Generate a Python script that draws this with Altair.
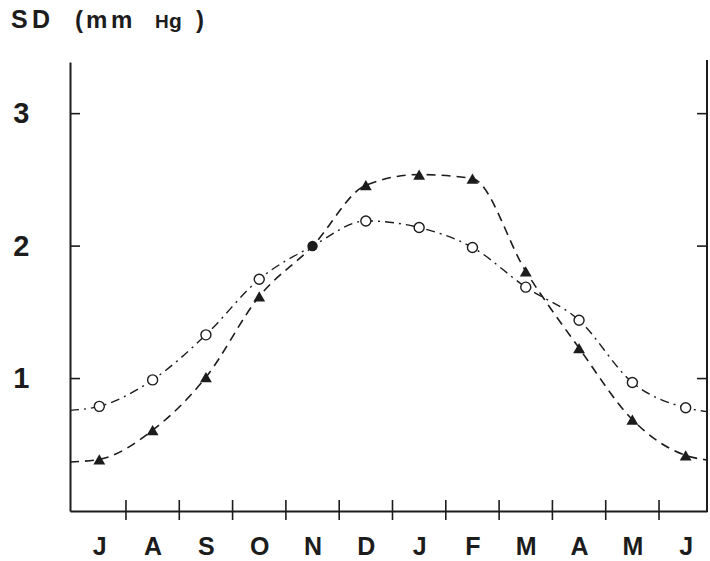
import altair as alt
import pandas as pd

# ---- data ----
months = ["J", "A", "S", "O", "N", "D", "J", "F", "M", "A", "M", "J"]
month_pos = list(range(12))
sd_triangle = [0.39, 0.61, 1.01, 1.62, 2.00, 2.46, 2.54, 2.51, 1.81, 1.23, 0.69, 0.42]
sd_circle = [0.79, 0.99, 1.33, 1.75, 2.00, 2.19, 2.14, 1.99, 1.69, 1.44, 0.97, 0.78]
# where the curves meet the left and right frame
edge_pos = [-0.55, 11.4]
tri_edge = [0.37, 0.385]
circ_edge = [0.76, 0.75]
y_ticks = [1, 2, 3]
x_ticks = [0.5, 1.5, 2.5, 3.5, 4.5, 5.5, 6.5, 7.5, 8.5, 9.5, 10.5]

title_parts = ["S", "D", "(", "m", "m", "H", "g", ")"]
title_left = [11, 32, 75, 86, 111, 155, 169, 196]
title_size = [25, 25, 24, 24, 24, 19, 21, 24]

# ---- tables ----
pts = pd.DataFrame({"pos": month_pos, "tri": sd_triangle, "circ": sd_circle,
                    "month": months})
tri_line = pd.DataFrame({"pos": [edge_pos[0]] + month_pos + [edge_pos[1]],
                         "val": [tri_edge[0]] + sd_triangle + [tri_edge[1]]})
circ_line = pd.DataFrame({"pos": [edge_pos[0]] + month_pos + [edge_pos[1]],
                          "val": [circ_edge[0]] + sd_circle + [circ_edge[1]]})
yt = pd.DataFrame({"v": y_ticks})
xt = pd.DataFrame({"t": x_ticks})
ttl = pd.DataFrame({"txt": title_parts, "x": [v - 70 for v in title_left],
                    "fs": title_size})

W, H = 637, 449
INK = "#1c1c1c"
FONT = "Liberation Sans"

xs = alt.Scale(domain=[-0.55, 11.4], nice=False, zero=False)
ys = alt.Scale(domain=[0, 3.39], nice=False, zero=False)

label_expr = "[" + ",".join("'%s'" % m for m in months) + "][datum.value]"

x_axis = alt.Axis(values=month_pos, labelExpr=label_expr, title=None,
                  ticks=False, tickSize=0, grid=False, domainColor=INK,
                  domainWidth=2, labelFont=FONT, labelFontSize=25,
                  labelFontWeight="bold", labelColor=INK, labelPadding=23,
                  labelBaseline="top")
y_axis = alt.Axis(values=y_ticks, title=None, ticks=False, tickSize=0,
                  grid=False, domainColor=INK, domainWidth=2, labelFont=FONT,
                  labelFontSize=29, labelFontWeight="bold", labelColor=INK,
                  labelPadding=41, format="d")


def X(field):
    return alt.X(field, scale=xs, axis=x_axis)


def Y(field):
    return alt.Y(field, scale=ys, axis=y_axis)


tri_l = alt.Chart(tri_line).mark_line(
    interpolate="monotone", strokeDash=[9, 6], strokeWidth=1.6, color=INK
).encode(x=X("pos:Q"), y=Y("val:Q"))

circ_l = alt.Chart(circ_line).mark_line(
    interpolate="monotone", strokeDash=[9, 5, 2, 5], strokeWidth=1.4, color=INK
).encode(x=X("pos:Q"), y=Y("val:Q"))

tri_p = alt.Chart(pts).transform_filter("datum.pos != 4").mark_point(
    shape="triangle-up", filled=True, size=140, color=INK, opacity=1
).encode(x=X("pos:Q"), y=Y("tri:Q"))

circ_p = alt.Chart(pts).transform_filter("datum.pos != 4").mark_point(
    shape="circle", filled=True, size=100, color="white", stroke=INK,
    strokeWidth=1.4, opacity=1
).encode(x=X("pos:Q"), y=Y("circ:Q"))

dot_p = alt.Chart(pts).transform_filter("datum.pos == 4").mark_point(
    shape="circle", filled=True, size=110, color=INK, opacity=1
).encode(x=X("pos:Q"), y=Y("circ:Q"))

left_ticks = alt.Chart(yt).mark_rule(color=INK, strokeWidth=1.6).encode(
    y=Y("v:Q"), x=alt.value(0), x2=alt.value(10))
right_ticks = alt.Chart(yt).mark_rule(color=INK, strokeWidth=1.6).encode(
    y=Y("v:Q"), x=alt.value(W - 10), x2=alt.value(W))
right_line = alt.Chart(yt).mark_rule(color=INK, strokeWidth=2).encode(
    x=alt.value(W), y=alt.value(-2), y2=alt.value(H + 1))
x_tick_marks = alt.Chart(xt).mark_rule(color=INK, strokeWidth=1.6).encode(
    x=X("t:Q"), y=alt.value(H - 11), y2=alt.value(H + 9))

title = alt.Chart(ttl).mark_text(
    align="left", baseline="alphabetic", font=FONT, fontWeight="bold", color=INK
).encode(x=alt.X("x:Q", scale=None, axis=None), y=alt.value(-34),
         text="txt:N", size=alt.Size("fs:Q", scale=None, legend=None))

chart = alt.layer(
    tri_l, circ_l, left_ticks, right_ticks, right_line, x_tick_marks,
    tri_p, circ_p, dot_p, title
).properties(
    width=W, height=H,
    autosize=alt.AutoSizeParams(type="none"),
    padding={"left": 70, "top": 62, "right": 3, "bottom": 50},
    background="white"
).configure_view(stroke=None)

chart.save("out.html", embed_options={"renderer": "svg", "actions": False})
